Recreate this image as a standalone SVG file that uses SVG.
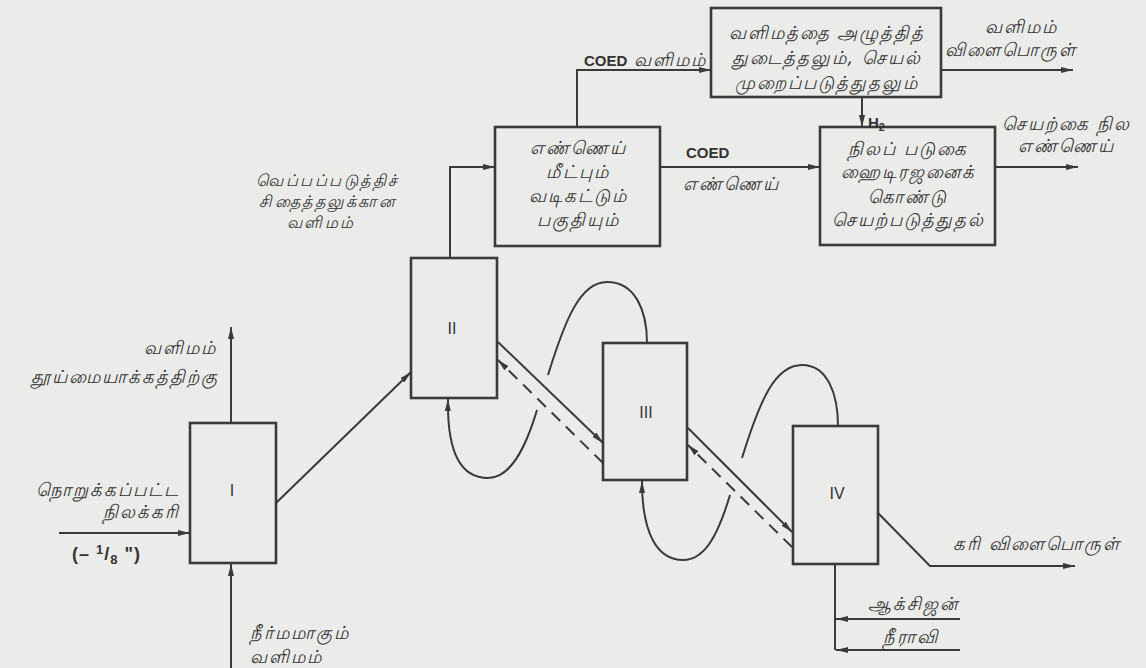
<svg xmlns="http://www.w3.org/2000/svg" width="1146" height="668" viewBox="0 0 1146 668">
<style>
.ln{stroke:#3a3a3a;stroke-width:2;fill:none}
.dash{stroke-dasharray:12 8}
.box{fill:none;stroke:#3a3a3a;stroke-width:2.6}
.ta{font-family:"Noto Sans",sans-serif;font-size:18px;letter-spacing:2px;font-style:italic;fill:#333}
.sm{font-size:16px;letter-spacing:2.5px}
.en{font-family:"Liberation Sans",sans-serif;font-weight:bold;font-size:15px;fill:#333}
.frac{font-size:18px;letter-spacing:1px}
.rn{font-family:"Liberation Sans",sans-serif;font-size:16px;fill:#333}
.mid{text-anchor:middle}
.end{text-anchor:end}
</style>
<defs>
<marker id="ah" viewBox="0 0 12 6" refX="12" refY="3" markerWidth="12" markerHeight="6" markerUnits="userSpaceOnUse" orient="auto"><path d="M0,0 L12,3 L0,6 z" fill="#3a3a3a"/></marker>
</defs>
<rect width="1146" height="668" fill="#ebebe9"/>

<g id="connectors">
<path class="ln" d="M231 423 L231 327" marker-end="url(#ah)"/>
<path class="ln" d="M59 533 L190 533" marker-end="url(#ah)"/>
<path class="ln" d="M231 668 L231 564" marker-end="url(#ah)"/>
<path class="ln" d="M276 503 L411 372" marker-end="url(#ah)"/>
<path class="ln" d="M450 258 L450 167 L495 167" marker-end="url(#ah)"/>
<path class="ln" d="M577 127 L577 70 L711 70" marker-end="url(#ah)"/>
<path class="ln" d="M941 70 L1073 70" marker-end="url(#ah)"/>
<path class="ln" d="M862 97 L862 127" marker-end="url(#ah)"/>
<path class="ln" d="M660 167 L820 167" marker-end="url(#ah)"/>
<path class="ln" d="M995 167 L1078 167" marker-end="url(#ah)"/>
<path class="ln" d="M498 342 L603 443" marker-end="url(#ah)"/>
<path class="ln dash" d="M603 463 L498 360" marker-end="url(#ah)"/>
<path class="ln" d="M688 428 L792 532" marker-end="url(#ah)"/>
<path class="ln dash" d="M792 547 L688 445" marker-end="url(#ah)"/>
<path class="ln" d="M537 410 C525 450 510 478 488 478 C462 478 447 455 448 399" marker-end="url(#ah)"/>
<path class="ln" d="M548 375 C565 320 580 282 607 282 C635 282 647 310 647 343"/>
<path class="ln" d="M730 495 C718 535 705 560 683 560 C658 560 642 535 642 481" marker-end="url(#ah)"/>
<path class="ln" d="M742 458 C760 400 775 365 802 365 C828 365 838 395 838 426"/>
<path class="ln" d="M835 564 L835 650"/>
<path class="ln" d="M960 619 L836 619" marker-end="url(#ah)"/>
<path class="ln" d="M960 650 L836 650" marker-end="url(#ah)"/>
<path class="ln" d="M878 513 L930 566 L1075 566" marker-end="url(#ah)"/>
</g>

<g id="stage1">
<rect class="box" x="190" y="423" width="86" height="140"/>
<text class="rn mid" x="232" y="496">I</text>
</g>
<g id="stage2">
<rect class="box" x="411" y="258" width="86" height="140"/>
<text class="rn mid" x="452" y="334">II</text>
</g>
<g id="stage3">
<rect class="box" x="603" y="343" width="84" height="137"/>
<text class="rn mid" x="646" y="418">III</text>
</g>
<g id="stage4">
<rect class="box" x="793" y="426" width="85" height="138"/>
<text class="rn mid" x="837" y="499">IV</text>
</g>
<g id="oil-recovery">
<rect class="box" x="495" y="127" width="165" height="119"/>
<text class="ta mid" x="578" y="154">எண்ணெய்</text>
<text class="ta mid" x="578" y="178">மீட்பும்</text>
<text class="ta mid" x="578" y="202">வடிகட்டும்</text>
<text class="ta mid" x="578" y="226">பகுதியும்</text>
</g>
<g id="gas-cleaning">
<rect class="box" x="711" y="8" width="230" height="89"/>
<text class="ta mid" x="827" y="39">வளிமத்தை அழுத்தித்</text>
<text class="ta mid" x="827" y="64">துடைத்தலும், செயல்</text>
<text class="ta mid" x="827" y="89">முறைப்படுத்துதலும்</text>
</g>
<g id="hydrotreating">
<rect class="box" x="820" y="127" width="175" height="118"/>
<text class="ta mid" x="908" y="155">நிலப் படுகை</text>
<text class="ta mid" x="908" y="178">ஹைடிரஜனைக்</text>
<text class="ta mid" x="908" y="203">கொண்டு</text>
<text class="ta mid" x="908" y="226">செயற்படுத்துதல்</text>
</g>

<g id="labels">
<text class="ta end" x="217" y="354">வளிமம்</text>
<text class="ta end" x="219" y="383">தூய்மையாக்கத்திற்கு</text>
<text class="ta end" x="180" y="496">நொறுக்கப்பட்ட</text>
<text class="ta end" x="180" y="518">நிலக்கரி</text>
<text class="en frac" x="72" y="560">(– <tspan font-size="13" dy="-6">1</tspan><tspan dy="6">/</tspan><tspan font-size="13" dy="4">8</tspan><tspan dy="-4"> ")</tspan></text>
<text class="ta" x="250" y="639">நீர்மமாகும்</text>
<text class="ta" x="250" y="663">வளிமம்</text>
<text class="ta sm mid" x="328" y="186">வெப்பப்படுத்திச்</text>
<text class="ta sm mid" x="328" y="207">சிதைத்தலுக்கான</text>
<text class="ta sm mid" x="321" y="228">வளிமம்</text>
<text x="584" y="66"><tspan class="en">COED</tspan><tspan class="ta" font-size="15" letter-spacing="0"> வளிமம்</tspan></text>
<text class="en" x="868" y="128">H<tspan font-size="11" dy="3">2</tspan></text>
<text class="ta" x="985" y="33">வளிமம்</text>
<text class="ta" x="945" y="56">விளைபொருள்</text>
<text class="ta" x="1002" y="130">செயற்கை நில</text>
<text class="ta" x="1018" y="152">எண்ணெய்</text>
<text class="en" x="686" y="158">COED</text>
<text class="ta" x="683" y="190">எண்ணெய்</text>
<text class="ta" x="953" y="550">கரி விளைபொருள்</text>
<text class="ta" x="868" y="610">ஆக்சிஜன்</text>
<text class="ta" x="883" y="643">நீராவி</text>
</g>
</svg>
